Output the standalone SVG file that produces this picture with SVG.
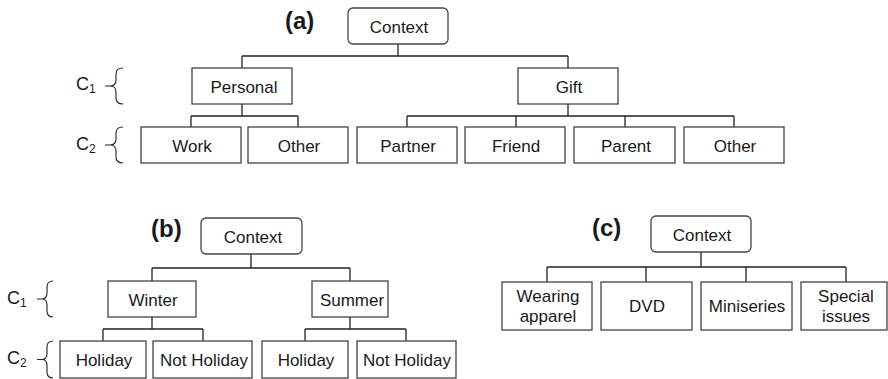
<svg xmlns="http://www.w3.org/2000/svg" width="888" height="379" viewBox="0 0 888 379">
  <style>
    .box { fill: #ffffff; stroke: #444444; stroke-width: 1.3; }
    .link { fill: none; stroke: #222222; stroke-width: 1.3; }
    .brace { fill: none; stroke: #222222; stroke-width: 1.1; }
    .lbl { font-family: "Liberation Sans", Arial, Helvetica, sans-serif; font-size: 17px; fill: #1a1a1a; text-anchor: middle; }
    .tag { font-family: "Liberation Sans", Arial, Helvetica, sans-serif; font-size: 24px; font-weight: bold; fill: #1a1a1a; }
    .lev { font-family: "Liberation Sans", Arial, Helvetica, sans-serif; font-size: 18px; fill: #1a1a1a; }
    .sub { font-size: 12px; }
  </style>
  <rect width="888" height="379" fill="#ffffff"/>

  <!-- connectors -->
  <g id="connectors" class="link">
    <!-- tree (a) -->
    <path d="M398,44 V56 M242,56 H568 M242,56 V68 M568,56 V68"/>
    <path d="M242,104 V116 M191,116 H298 M191,116 V127 M298,116 V127"/>
    <path d="M568,104 V116 M407,116 H734 M407,116 V127 M516,116 V127 M625,116 V127 M734,116 V127"/>
    <!-- tree (b) -->
    <path d="M251,254 V268 M152,268 H350 M152,268 V281 M350,268 V281"/>
    <path d="M152,317 V329 M103,329 H203 M103,329 V341 M203,329 V341"/>
    <path d="M350,317 V329 M305,329 H406 M305,329 V341 M406,329 V341"/>
    <!-- tree (c) -->
    <path d="M701,252 V267 M547,267 H846 M547,267 V282 M646,267 V282 M746,267 V282 M846,267 V282"/>
  </g>

  <!-- panel tags -->
  <text class="tag" x="285" y="29">(a)</text>
  <text class="tag" x="151" y="237">(b)</text>
  <text class="tag" x="592" y="236">(c)</text>

  <!-- level markers -->
  <g id="levels-a">
    <text class="lev" x="76" y="90">C<tspan class="sub" dy="3">1</tspan></text>
    <path class="brace" d="M105,86 H110 M123,68 Q116,68 116,74 V80 Q116,86 110,86 Q116,86 116,92 V98 Q116,104 123,104"/>
    <text class="lev" x="76" y="150">C<tspan class="sub" dy="3">2</tspan></text>
    <path class="brace" d="M105,145 H110 M123,127 Q116,127 116,133 V139 Q116,145 110,145 Q116,145 116,151 V157 Q116,163 123,163"/>
  </g>
  <g id="levels-b">
    <text class="lev" x="7" y="304">C<tspan class="sub" dy="3">1</tspan></text>
    <path class="brace" d="M37,299 H42 M53,281 Q47,281 47,287 V293 Q47,299 42,299 Q47,299 47,305 V311 Q47,317 53,317"/>
    <text class="lev" x="7" y="364">C<tspan class="sub" dy="3">2</tspan></text>
    <path class="brace" d="M37,359.5 H42 M53,341 Q47,341 47,347 V353.5 Q47,359.5 42,359.5 Q47,359.5 47,365.5 V372 Q47,378 53,378"/>
  </g>

  <!-- tree (a) nodes -->
  <g id="a-context"><rect class="box" x="348" y="8" width="100" height="36" rx="5"/><text class="lbl" x="399" y="32.5">Context</text></g>
  <g id="a-personal"><rect class="box" x="192" y="68" width="100" height="36"/><text class="lbl" x="244" y="92.5">Personal</text></g>
  <g id="a-gift"><rect class="box" x="518" y="68" width="100" height="36"/><text class="lbl" x="569" y="92.5">Gift</text></g>
  <g id="a-work"><rect class="box" x="141" y="127" width="100" height="36"/><text class="lbl" x="192" y="151.5">Work</text></g>
  <g id="a-other1"><rect class="box" x="248" y="127" width="100" height="36"/><text class="lbl" x="299" y="151.5">Other</text></g>
  <g id="a-partner"><rect class="box" x="357" y="127" width="100" height="36"/><text class="lbl" x="408" y="151.5">Partner</text></g>
  <g id="a-friend"><rect class="box" x="465" y="127" width="100" height="36"/><text class="lbl" x="516" y="151.5">Friend</text></g>
  <g id="a-parent"><rect class="box" x="574" y="127" width="101" height="36"/><text class="lbl" x="626" y="151.5">Parent</text></g>
  <g id="a-other2"><rect class="box" x="684" y="127" width="100" height="36"/><text class="lbl" x="735" y="151.5">Other</text></g>

  <!-- tree (b) nodes -->
  <g id="b-context"><rect class="box" x="201" y="218" width="101" height="36" rx="5"/><text class="lbl" x="253" y="242.5">Context</text></g>
  <g id="b-winter"><rect class="box" x="108" y="281" width="88" height="36"/><text class="lbl" x="153" y="305.5">Winter</text></g>
  <g id="b-summer"><rect class="box" x="312" y="281" width="76" height="36"/><text class="lbl" x="352" y="305.5">Summer</text></g>
  <g id="b-holiday1"><rect class="box" x="60" y="341" width="86" height="37"/><text class="lbl" x="104" y="365.5">Holiday</text></g>
  <g id="b-notholiday1"><rect class="box" x="153" y="341" width="99" height="37"/><text class="lbl" x="204" y="365.5">Not Holiday</text></g>
  <g id="b-holiday2"><rect class="box" x="262" y="341" width="86" height="37"/><text class="lbl" x="306" y="365.5">Holiday</text></g>
  <g id="b-notholiday2"><rect class="box" x="357" y="341" width="99" height="37"/><text class="lbl" x="407" y="365.5">Not Holiday</text></g>

  <!-- tree (c) nodes -->
  <g id="c-context"><rect class="box" x="651" y="216" width="100" height="36" rx="5"/><text class="lbl" x="702" y="240.5">Context</text></g>
  <g id="c-apparel"><rect class="box" x="502" y="282" width="90" height="48"/><text class="lbl" x="548" y="302">Wearing</text><text class="lbl" x="548" y="322">apparel</text></g>
  <g id="c-dvd"><rect class="box" x="601" y="282" width="91" height="48"/><text class="lbl" x="647" y="312">DVD</text></g>
  <g id="c-miniseries"><rect class="box" x="701" y="282" width="91" height="48"/><text class="lbl" x="747" y="312">Miniseries</text></g>
  <g id="c-special"><rect class="box" x="801" y="282" width="86" height="48"/><text class="lbl" x="846" y="302">Special</text><text class="lbl" x="846" y="322">issues</text></g>
</svg>
